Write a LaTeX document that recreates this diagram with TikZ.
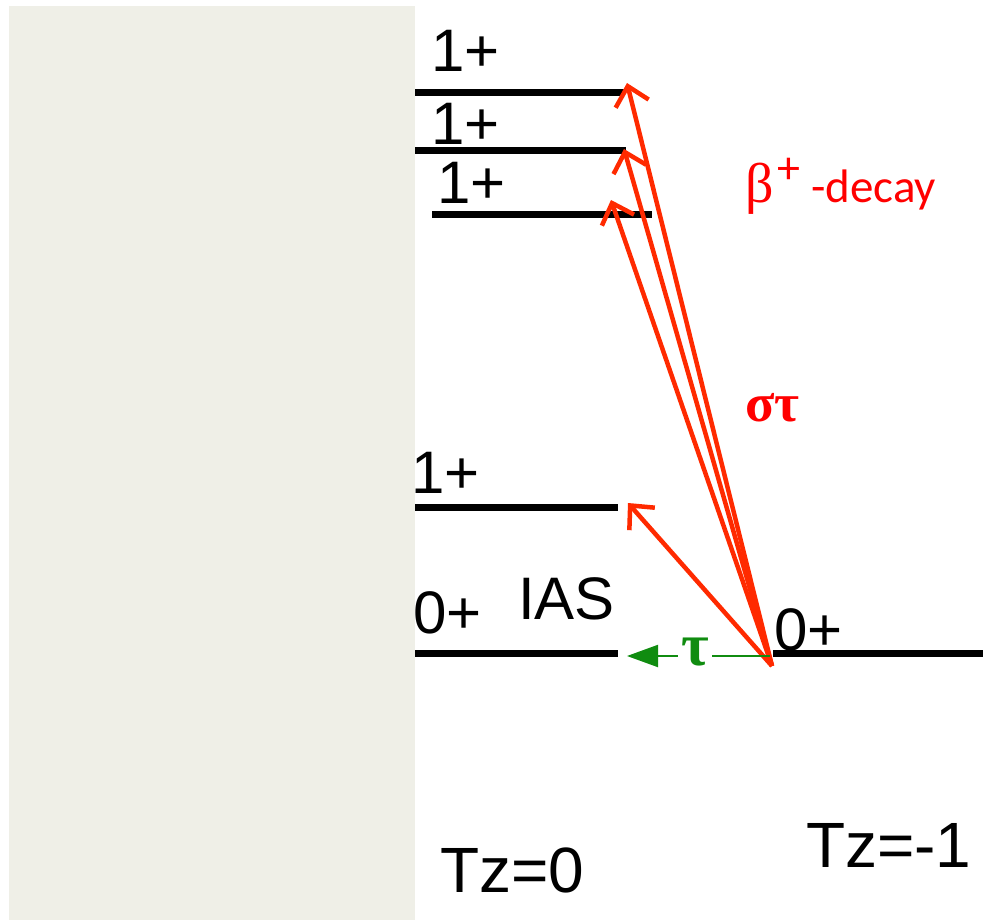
\documentclass[tikz,border=0pt]{standalone}
\usepackage{fontspec}
\setmainfont{Liberation Sans}
\newfontfamily\lblfont{Liberation Sans}
\newfontfamily\grkfont{Liberation Serif}
\newfontfamily\calfont{Carlito}
\usetikzlibrary{arrows.meta}
\definecolor{panel}{RGB}{239,239,231}
\definecolor{arrred}{RGB}{255,42,0}
\definecolor{txtred}{RGB}{255,0,0}
\definecolor{grn}{RGB}{16,140,16}
\begin{document}
\begin{tikzpicture}[x=1pt,y=-1pt,
  level/.style={line width=7pt},
  lbl/.style={anchor=base west,inner sep=0pt,font=\lblfont\fontsize{60}{62}\selectfont},
  tzlbl/.style={anchor=base west,inner sep=0pt,font=\lblfont\fontsize{64}{66}\selectfont},
  redarr/.style={arrred,line width=4.5pt,-{Straight Barb[length=18pt,width=34pt]}},
  redtxt/.style={anchor=base west,inner sep=0pt,text=txtred},
  gline/.style={grn,line width=2pt},
  taulbl/.style={inner xsep=3pt,inner ysep=0pt,text=grn,font=\grkfont\bfseries\fontsize{60}{62}\selectfont}]
\useasboundingbox (0,0) rectangle (983,920);
\fill[panel] (9,6) rectangle (415,920);
% levels
\coordinate (l1a) at (415,93); \coordinate (l1b) at (625,93);
\coordinate (l2a) at (415,151); \coordinate (l2b) at (626,151);
\coordinate (l3a) at (432,215); \coordinate (l3b) at (652,215);
\coordinate (l4a) at (415,507); \coordinate (l4b) at (618,507);
\coordinate (l5a) at (415,653); \coordinate (l5b) at (618,653);
\coordinate (r0a) at (773,653); \coordinate (r0b) at (983,653);
\foreach \a/\b in {l1a/l1b,l2a/l2b,l3a/l3b,l4a/l4b,l5a/l5b,r0a/r0b}
  \draw[level] (\a) -- (\b);
% labels
\node[lbl] (s1) at (431,72) {1+};
\node[lbl] (s2) at (431,145) {1+};
\node[lbl] (s3) at (437,204) {1+};
\node[lbl] (s4) at (411,493) {1+};
\node[lbl] (s5) at (413,633) {0+};
\node[lbl] (ias) at (518,619) {IAS};
\node[lbl] (s6) at (774,650) {0+};
\node[tzlbl] (tz0) at (440,892) {Tz=0};
\node[tzlbl] (tz1) at (806,867) {Tz=-1};
% red transitions
\coordinate (src) at (772,666);
\coordinate (t1) at (627,83);
\coordinate (t2) at (624,149);
\coordinate (t3) at (611,200);
\coordinate (t4) at (628,503);
\foreach \t in {t1,t2,t3,t4}
  \draw[redarr] (src) -- (\t);
% red labels
\node[redtxt,font=\grkfont\fontsize{56}{58}\selectfont] (beta) at (745,203) {β};
\node[redtxt,font=\calfont\fontsize{46}{48}\selectfont] (plus) at (777,184) {+};
\node[redtxt,font=\calfont\fontsize{47}{49}\selectfont] (decay) at (811,203) {-decay};
\node[redtxt,font=\grkfont\bfseries\fontsize{54}{56}\selectfont] (st) at (745,421) {στ};
% green tau transition
\coordinate (gsrc) at (770,656);
\coordinate (gtip) at (627,656);
\node[taulbl] (tau) at (695,652) {τ};
\draw[gline] (gsrc) -- (gsrc -| tau.east);
\draw[gline,-{Triangle[length=31pt,width=22pt]}] (gsrc -| tau.west) -- (gtip);
\end{tikzpicture}
\end{document}
